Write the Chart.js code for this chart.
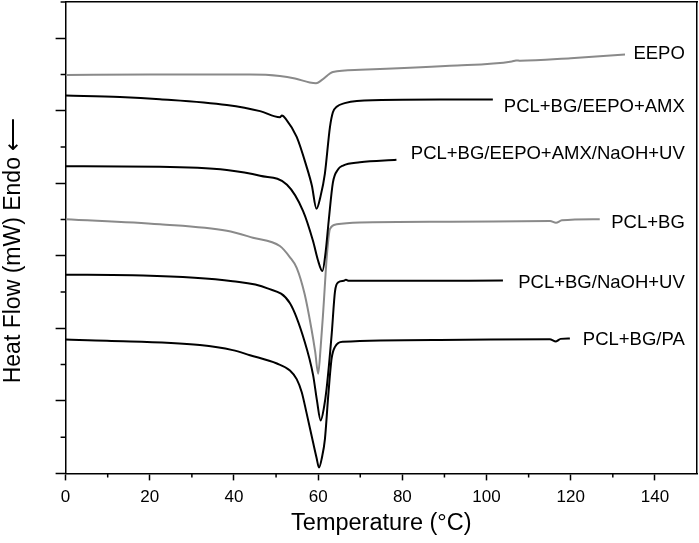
<!DOCTYPE html>
<html>
<head>
<meta charset="utf-8">
<script src="https://cdn.jsdelivr.net/npm/chart.js@4.4.0/dist/chart.umd.min.js"></script>
<style>
  html, body { margin: 0; padding: 0; background: #fff; }
</style>
</head>
<body>
<canvas id="dsc" width="699" height="543"></canvas>
<script>
// temperature (°C) and heat flow (arbitrary offset units)
const eepoT = [0, 20, 43.8, 50.9, 54.5, 58, 59.5, 60.9, 63.5, 70, 91.3, 106, 107, 108, 120, 132.9];
const eepoH = [10.99, 11.0, 11.0, 10.96, 10.89, 10.78, 10.76, 10.85, 11.07, 11.13, 11.24, 11.36, 11.39, 11.38, 11.45, 11.55];

const amxT = [0, 12.9, 22.4, 38.3, 46.2, 50.9, 51.4, 52.3, 54.9, 57.3, 58.5, 59.6, 60.6, 61.6, 62.8, 63.5, 64.4, 66.3, 69.2, 88.9, 101.5];
const amxH = [10.42, 10.38, 10.32, 10.16, 9.99, 9.82, 9.87, 9.78, 9.28, 8.44, 7.94, 7.30, 7.66, 8.27, 9.55, 9.96, 10.11, 10.21, 10.27, 10.31, 10.31];

const amxUvT = [0, 22.4, 38.3, 46.2, 52.6, 56.4, 58.8, 59.9, 61.0, 61.8, 62.5, 63.5, 64.7, 65.9, 69.9, 78.6];
const amxUvH = [8.47, 8.46, 8.37, 8.21, 7.96, 7.24, 6.40, 5.90, 5.58, 6.13, 6.96, 8.02, 8.38, 8.49, 8.58, 8.65];

const bgT = [0, 22.4, 38.3, 44.5, 50.9, 53.3, 54.9, 56.8, 58.4, 59.3, 60.0, 60.6, 61.2, 62.1, 62.8, 64.4, 69.9, 91.3, 115.1, 116.5, 117.9, 126.9];
const bgH = [7.01, 6.87, 6.69, 6.50, 6.27, 5.96, 5.67, 4.94, 3.99, 3.35, 2.75, 3.49, 4.46, 6.05, 6.74, 6.87, 6.92, 6.94, 6.96, 6.91, 6.98, 7.01];

const bgUvT = [0, 18.4, 39.7, 47.8, 53.3, 56.8, 58.8, 59.7, 60.6, 61.4, 62.0, 63.2, 64.0, 64.8, 66.1, 66.6, 67.3, 79.4, 103.9];
const bgUvH = [5.48, 5.46, 5.30, 5.11, 4.69, 3.63, 2.71, 2.02, 1.46, 1.83, 2.33, 3.82, 5.02, 5.27, 5.31, 5.34, 5.31, 5.31, 5.32];

const paT = [0, 9.8, 31.9, 39.7, 43.8, 50.2, 53.3, 54.9, 56.1, 57.2, 58.8, 59.6, 60.2, 60.9, 61.6, 62.4, 63.2, 64.0, 65.9, 88.9, 115.0, 116.5, 117.6, 119.8];
const paH = [3.69, 3.66, 3.54, 3.40, 3.26, 3.03, 2.84, 2.60, 2.24, 1.69, 0.85, 0.44, 0.16, 0.44, 0.94, 2.15, 3.17, 3.49, 3.63, 3.68, 3.70, 3.64, 3.71, 3.72];

const seriesNames = ['EEPO', 'PCL+BG/EEPO+AMX', 'PCL+BG/EEPO+AMX/NaOH+UV', 'PCL+BG', 'PCL+BG/NaOH+UV', 'PCL+BG/PA'];
const labelY = [11.57, 10.11, 8.82, 6.90, 5.25, 3.69];
const labelX = 147.1;

const xTicks = [0, 20, 40, 60, 80, 100, 120, 140];
const xMinor = [10, 30, 50, 70, 90, 110, 130];
const yTicks = [0, 2, 4, 6, 8, 10, 12];
const yMinor = [1, 3, 5, 7, 9, 11, 13];

const FONT = '"Liberation Sans", Arial, Helvetica, sans-serif';
const GREY = '#8a8a8a';

function pts(t, h) {
    return t.map((v, i) => ({ x: v, y: h[i] }));
}

const curves = [
    { t: eepoT, h: eepoH, c: GREY },
    { t: amxT, h: amxH, c: '#000' },
    { t: amxUvT, h: amxUvH, c: '#000' },
    { t: bgT, h: bgH, c: GREY },
    { t: bgUvT, h: bgUvH, c: '#000' },
    { t: paT, h: paH, c: '#000' }
];

const extras = {
    id: 'extras',
    afterDraw(chart) {
        const ctx = chart.ctx;
        const xs = chart.scales.x;
        const ys = chart.scales.y;
        ctx.save();
        ctx.strokeStyle = '#000';
        ctx.lineWidth = 1.5;
        ctx.beginPath();
        xMinor.forEach(v => {
            const px = xs.getPixelForValue(v);
            ctx.moveTo(px, xs.top);
            ctx.lineTo(px, xs.top + 4);
        });
        yMinor.forEach(v => {
            const py = ys.getPixelForValue(v);
            ctx.moveTo(ys.right, py);
            ctx.lineTo(ys.right - 5, py);
        });
        ctx.stroke();

        // curve names at the right end
        ctx.fillStyle = '#000';
        ctx.font = '18.5px ' + FONT;
        ctx.textAlign = 'right';
        ctx.textBaseline = 'middle';
        seriesNames.forEach((n, i) => {
            ctx.fillText(n, xs.getPixelForValue(labelX), ys.getPixelForValue(labelY[i]));
        });
        ctx.restore();
    }
};

const ctx = document.getElementById('dsc').getContext('2d');
new Chart(ctx, {
    type: 'line',
    data: {
        datasets: curves.map((c, i) => ({
            label: seriesNames[i],
            data: pts(c.t, c.h),
            borderColor: c.c,
            borderWidth: 2,
            pointRadius: 0,
            fill: false,
            cubicInterpolationMode: 'monotone'
        }))
    },
    options: {
        responsive: false,
        animation: false,
        layout: { padding: { left: 0, right: 2, top: 2, bottom: 0 } },
        plugins: {
            legend: { display: false },
            tooltip: { enabled: false }
        },
        scales: {
            x: {
                type: 'linear',
                position: 'bottom',
                min: 0,
                max: 150,
                afterBuildTicks: s => { s.ticks = xTicks.map(v => ({ value: v })); },
                grid: { drawOnChartArea: false, tickLength: 7, tickColor: '#000', tickWidth: 1.5 },
                border: { color: '#000', width: 1.5 },
                ticks: { color: '#000', font: { family: FONT, size: 17 }, padding: 7, maxRotation: 0 },
                title: {
                    display: true,
                    text: 'Temperature (°C)',
                    color: '#000',
                    font: { family: FONT, size: 23.5, lineHeight: 1.2 },
                    padding: { top: -5, bottom: 5 }
                }
            },
            y: {
                type: 'linear',
                position: 'left',
                min: 0,
                max: 13,
                afterBuildTicks: s => { s.ticks = yTicks.map(v => ({ value: v })); },
                grid: { drawOnChartArea: false, tickLength: 10, tickColor: '#000', tickWidth: 1.5 },
                border: { color: '#000', width: 1.5 },
                ticks: { display: false },
                title: {
                    display: true,
                    text: 'Heat Flow (mW) Endo ⟵    ',
                    color: '#000',
                    font: { family: FONT, size: 23, lineHeight: 1.2 },
                    padding: { top: 0, bottom: 28 }
                }
            },
            x2: {
                type: 'linear',
                position: 'top',
                min: 0,
                max: 150,
                grid: { display: false, drawTicks: false },
                ticks: { display: false },
                border: { color: '#000', width: 1.5 }
            },
            y2: {
                type: 'linear',
                position: 'right',
                min: 0,
                max: 13,
                grid: { display: false, drawTicks: false },
                ticks: { display: false },
                border: { color: '#000', width: 1.5 }
            }
        }
    },
    plugins: [extras]
});
</script>
</body>
</html>
